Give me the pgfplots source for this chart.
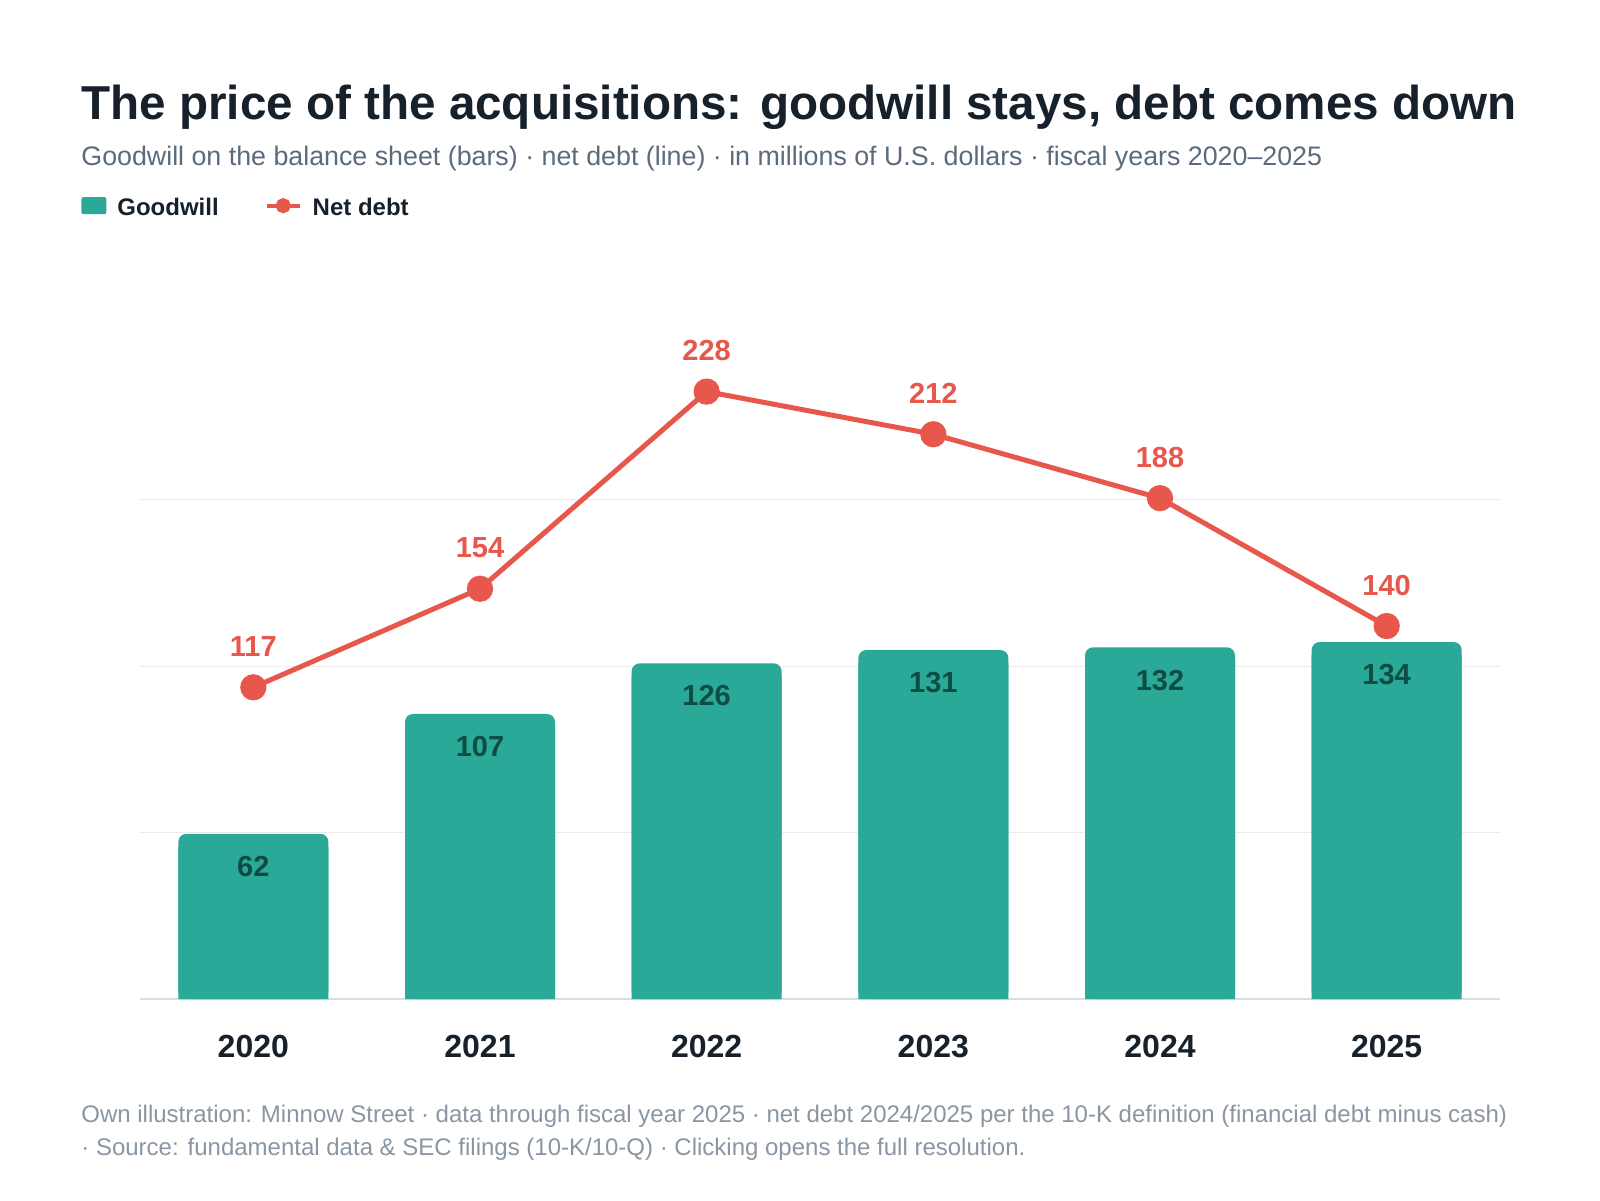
\documentclass[border=0pt]{standalone}
\usepackage{pgfplots}
\pgfplotsset{compat=1.18}
\usepackage{pgfplotstable}
\usepackage{fontspec}
\setmainfont{Liberation Sans}
\definecolor{gwteal}{HTML}{2AA898}
\definecolor{ndred}{HTML}{E8574B}
\definecolor{lbldark}{HTML}{0E4D44}
\definecolor{titlec}{HTML}{17212B}
\definecolor{subc}{HTML}{5B6B7D}
\definecolor{footc}{HTML}{8A96A3}
\definecolor{gridc}{HTML}{ECECEC}
\definecolor{basec}{HTML}{D9DEE4}
\pgfplotstableread{
x g n
0 62 117
1 107 154
2 126 228
3 131 212
4 132 188
5 134 140
}\data
\begin{document}
\begin{tikzpicture}[x=1pt,y=1pt]
\fill[white] (0,0) rectangle (800,600);
\node[anchor=base west, inner sep=0, text=titlec, font=\fontsize{23.8}{28}\selectfont\bfseries] at (40.5,540) {The price of the acquisitions: goodwill stays, debt comes down};
\node[anchor=base west, inner sep=0, text=subc, font=\fontsize{13.4}{16}\selectfont] at (40.5,517) {Goodwill on the balance sheet (bars) · net debt (line) · in millions of U.S. dollars · fiscal years 2020–2025};
\node[anchor=base west, inner sep=0, text=footc, font=\fontsize{12}{14}\selectfont] at (40.5,39) {Own illustration: Minnow Street · data through fiscal year 2025 · net debt 2024/2025 per the 10-K definition (financial debt minus cash)};
\node[anchor=base west, inner sep=0, text=footc, font=\fontsize{12}{14}\selectfont] at (40.5,22.5) {· Source: fundamental data \& SEC filings (10-K/10-Q) · Clicking opens the full resolution.};
\begin{axis}[
  at={(70pt,100.5pt)}, anchor=south west,
  scale only axis, width=680pt, height=333pt,
  xmin=-0.5, xmax=5.5, ymin=0, ymax=250,
  axis x line*=bottom, axis y line*=left,
  x axis line style={draw=basec, line width=1pt},
  y axis line style={draw=none},
  major tick length=0pt,
  xtick={0,1,2,3,4,5},
  xticklabels={2020,2021,2022,2023,2024,2025},
  xticklabel style={anchor=base, yshift=-29pt, inner sep=0pt, text=titlec, font=\fontsize{16}{19}\selectfont\bfseries},
  ytick={62.5,125,187.5}, yticklabels={,,},
  ymajorgrids, grid style={draw=gridc, line width=0.5pt},
  /pgf/number format/assume math mode=true,
  legend columns=2,
  legend style={at={(-0.04338,1.1877)}, anchor=base west, draw=none, fill=none, inner sep=0pt, row sep=0pt,
    font=\fontsize{12}{14}\selectfont\bfseries, text=titlec,
    nodes={inner sep=0pt},
    /tikz/every odd column/.append style={column sep=5.5pt},
    /tikz/every even column/.append style={column sep=23pt}},
]
\addplot[ybar, bar width=75pt, bar shift=0pt, fill=gwteal, draw=none, forget plot]
  table[x=x, y expr=\thisrow{g}-5] {\data};
\addplot[ybar, bar width=75pt, bar shift=0pt, fill=gwteal, draw=none, rounded corners=4pt,
  nodes near coords,
  every node near coord/.append style={anchor=north, yshift=-11pt, inner sep=0pt, text=lbldark, font=\fontsize{14.5}{17}\selectfont\bfseries, rounded corners=0pt},
  legend image code/.code={\fill[gwteal, rounded corners=1pt] (0pt,-3.1pt) rectangle (12.5pt,5.4pt);}]
  table[x=x, y=g] {\data};
\addlegendentry{Goodwill}
\addplot[color=ndred, line width=2.5pt, mark=*, mark size=5.3pt, mark options={draw=none, fill=ndred},
  nodes near coords,
  every node near coord/.append style={anchor=south, yshift=14pt, inner sep=0pt, text=ndred, font=\fontsize{14.5}{17}\selectfont\bfseries},
  legend image code/.code={\draw[ndred, line width=2pt] (0pt,1.15pt) -- (16.5pt,1.15pt); \fill[ndred] (8.25pt,1.15pt) circle (2.5pt);}]
  table[x=x, y=n] {\data};
\addlegendentry{Net debt}
\end{axis}
\end{tikzpicture}
\end{document}
